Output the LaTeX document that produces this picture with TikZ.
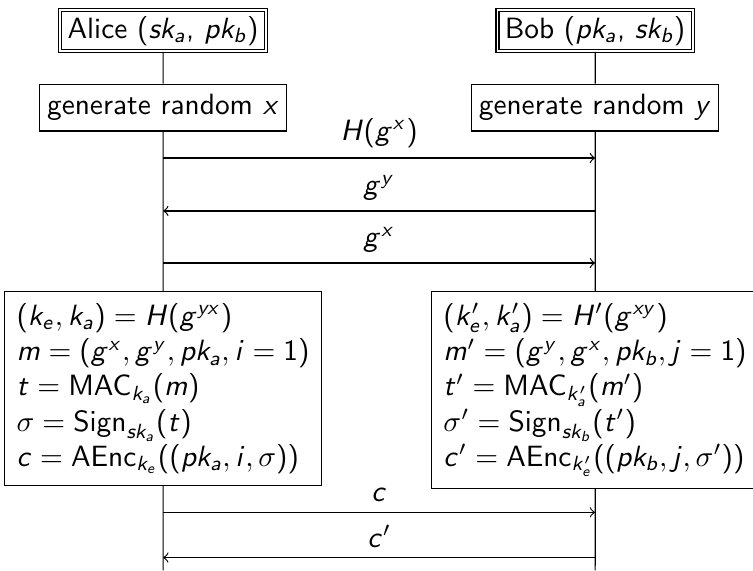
\documentclass[tikz,border=0pt]{standalone}
\usepackage{amsmath}
\renewcommand{\familydefault}{\sfdefault}
% sans serif math letters and operators
\DeclareSymbolFont{operators}{OT1}{cmss}{m}{n}
\DeclareSymbolFont{sfletters}{OT1}{cmss}{m}{sl}
\newcommand{\sfletter}[1]{\DeclareMathSymbol{#1}{\mathalpha}{sfletters}{`#1}}
\makeatletter
\@tfor\@tempa:=abcdefghijklmnopqrstuvwxyzABCDEFGHIJKLMNOPQRSTUVWXYZ\do{%
  \expandafter\sfletter\@tempa}
\makeatother
\usepackage{tikz}
\usetikzlibrary{positioning}

\begin{document}
\begin{tikzpicture}[>=to, scale=1.0225, font=\normalsize,
    actor/.style={draw, double, inner xsep=2.5pt, inner ysep=2pt},
    stepbox/.style={draw, inner xsep=2.5pt, inner ysep=3.5pt},
    calcbox/.style={draw, align=left, inner sep=4pt, anchor=north},
    msg/.style={->}]
  \useasboundingbox (0,0) rectangle (8.82,-6.68);
  % parties
  \node[actor] (alice) at (1.91,-0.36) {Alice ($sk_a$, $pk_b$)};
  \node[actor] (bob) at (6.97,-0.36) {Bob ($pk_a$, $sk_b$)};
  \node[stepbox] (genx) at (1.91,-1.26) {generate random $x$};
  \node[stepbox] (geny) at (6.97,-1.26) {generate random $y$};

  % key derivation and signing
  \node[calcbox] (calca) at (1.91,-3.41) {$(k_e, k_a) = H(g^{yx})$\\
    $m = (g^x, g^y, pk_a, i = 1)$\\
    $t = \mathrm{MAC}_{k_a}(m)$\\
    $\sigma = \mathrm{Sign}_{sk_a}(t)$\\
    $c = \mathrm{AEnc}_{k_e}((pk_a, i, \sigma))$};
  \node[calcbox] (calcb) at (6.97,-3.41) {$(k'_e, k'_a) = H'(g^{xy})$\\
    $m' = (g^y, g^x, pk_b, j = 1)$\\
    $t' = \mathrm{MAC}_{k'_a}(m')$\\
    $\sigma' = \mathrm{Sign}_{sk_b}(t')$\\
    $c' = \mathrm{AEnc}_{k'_e}((pk_b, j, \sigma'))$};

  % lifelines
  \coordinate (aend) at (1.91,-6.68);
  \coordinate (bend) at (6.97,-6.68);
  \draw (alice) -- (genx) -- (calca) -- (aend);
  \draw (bob) -- (geny) -- (calcb) -- (bend);

  % messages
  \coordinate (a1) at (1.91,-1.85);
  \coordinate (b1) at (6.97,-1.85);
  \coordinate (a2) at (1.91,-2.47);
  \coordinate (b2) at (6.97,-2.47);
  \coordinate (a3) at (1.91,-3.08);
  \coordinate (b3) at (6.97,-3.08);
  \coordinate (a4) at (1.91,-6.00);
  \coordinate (b4) at (6.97,-6.00);
  \coordinate (a5) at (1.91,-6.53);
  \coordinate (b5) at (6.97,-6.53);
  \draw[msg] (a1) -- node[above] {$H(g^x)$} (b1);
  \draw[msg] (b2) -- node[above] {$g^y$} (a2);
  \draw[msg] (a3) -- node[above] {$g^x$} (b3);
  \draw[msg] (a4) -- node[above] {$c$} (b4);
  \draw[msg] (b5) -- node[above] {$c'$} (a5);
\end{tikzpicture}
\end{document}
